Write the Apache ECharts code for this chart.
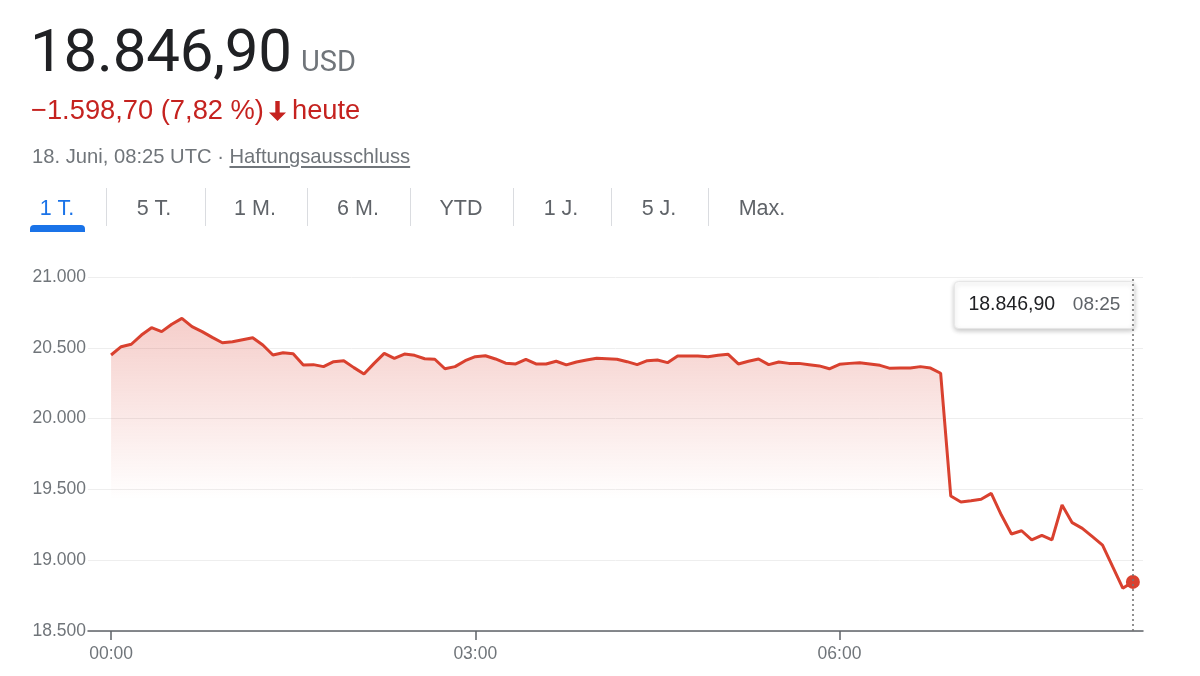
<!DOCTYPE html>
<html>
<head>
<meta charset="utf-8">
<script src="https://cdn.jsdelivr.net/npm/echarts@6/dist/echarts.min.js"></script>
<style>
  html, body { margin:0; padding:0; background:#fff; }
  body { width:1200px; height:676px; position:relative; overflow:hidden; font-family: "Liberation Sans", Arial, sans-serif; }
  #chart { position:absolute; left:0; top:0; width:1200px; height:676px; }
  .abs { position:absolute; white-space:nowrap; }
  #price { left:30px; top:15px; font-family: Roboto, sans-serif; font-size:60px; color:#202124; line-height:72px; letter-spacing:-0.2px; }
  #price .cur { font-size:29px; color:#70757a; margin-left:9px; letter-spacing:0; }
  #change { left:31px; top:94px; font-size:27.3px; color:#c5221f; line-height:32px; }
  #change svg { vertical-align:-3px; margin:0 4px 0 3px; }
  #date { left:32px; top:144px; font-size:20.2px; color:#70757a; line-height:24px; }
  #date u { text-decoration-color:#70757a; text-underline-offset:3px; }
  .tab { top:194px; font-size:21.5px; color:#5f6368; line-height:28px; transform:translateX(-50%); }
  .tab.active { color:#1a73e8; }
  .sep { top:188px; width:1px; height:38px; background:#dadce0; }
  #bar { left:30px; top:225px; width:55px; height:7px; background:#1a73e8; border-radius:4px 4px 0 0; }
</style>
</head>
<body>
<div id="chart"></div>
<div id="price" class="abs">18.846,90<span class="cur">USD</span></div>
<div id="change" class="abs">−1.598,70 (7,82 %)<svg width="21" height="22" viewBox="0 0 21 22"><path fill="#c5221f" d="M8.3 1h4.4v11.5h6.3L10.5 21 2 12.5h6.3z"/></svg>heute</div>
<div id="date" class="abs">18. Juni, 08:25 UTC · <u>Haftungsausschluss</u></div>
<div id="tabs"></div>
<div id="bar" class="abs"></div>
<script>
// ---- data ----
const tabLabels = ['1 T.', '5 T.', '1 M.', '6 M.', 'YTD', '1 J.', '5 J.', 'Max.'];
const stepMinutes = 5; // one reading every 5 minutes from 00:00 UTC
const prices = [
  20449, 20508, 20525, 20590, 20642, 20614, 20666, 20708, 20649, 20614,
  20574, 20536, 20543, 20557, 20571, 20520, 20449, 20465, 20458, 20379,
  20381, 20367, 20402, 20409, 20360, 20315, 20390, 20461, 20426, 20456,
  20447, 20423, 20419, 20352, 20367, 20409, 20437, 20444, 20421, 20391,
  20386, 20419, 20386, 20386, 20405, 20379, 20400, 20414, 20426, 20423,
  20419, 20402, 20381, 20409, 20414, 20395, 20442, 20442, 20442, 20437,
  20448, 20454, 20386, 20405, 20421, 20381, 20400, 20390, 20390, 20381,
  20372, 20352, 20383, 20390, 20395, 20386, 20376, 20355, 20357, 20357,
  20367, 20357, 20320, 19453, 19411, 19420, 19430, 19472, 19319, 19185,
  19208, 19143, 19176, 19143, 19390, 19265, 19225, 19166, 19107, 18954,
  18802, 18846.90
];
const xTickMinutes = [0, 180, 360];
const yTicks = [18500, 19000, 19500, 20000, 20500, 21000];

// ---- tabs (HTML text) ----
const tabCenters = [57, 154, 255, 358, 461, 561, 659, 762];
const sepX = [106, 205, 307, 410, 513, 611, 708];
const tabsEl = document.getElementById('tabs');
tabLabels.forEach((t, i) => {
  const d = document.createElement('div');
  d.className = 'abs tab' + (i === 0 ? ' active' : '');
  d.style.left = tabCenters[i] + 'px';
  d.textContent = t;
  tabsEl.appendChild(d);
});
sepX.forEach(x => {
  const s = document.createElement('div');
  s.className = 'abs sep';
  s.style.left = x + 'px';
  tabsEl.appendChild(s);
});

// ---- helpers ----
const fmtDE = (v, dec) => v.toLocaleString('de-DE', { minimumFractionDigits: dec, maximumFractionDigits: dec });
const fmtTime = m => String(Math.floor(m / 60)).padStart(2, '0') + ':' + String(m % 60).padStart(2, '0');

const seriesData = prices.map((p, i) => [i * stepMinutes, p]);
const last = seriesData[seriesData.length - 1];
const RED = '#d9412f';
const LABEL_FONT = 'Liberation Sans';

const chart = echarts.init(document.getElementById('chart'), null, { renderer: 'canvas' });
chart.setOption({
  animation: false,
  grid: { left: 88, right: 57, top: 277, bottom: 45, containLabel: false },
  xAxis: {
    type: 'value',
    min: -11.4,
    max: 510,
    axisLine: { show: true, lineStyle: { color: '#5f6368', width: 1.5 } },
    axisTick: { show: true, customValues: xTickMinutes, length: 9, lineStyle: { color: '#5f6368', width: 1.5 } },
    axisLabel: { customValues: xTickMinutes, formatter: v => fmtTime(v), color: '#70757a', fontSize: 17.5, fontFamily: LABEL_FONT, margin: 14 },
    splitLine: { show: false }
  },
  yAxis: {
    type: 'value',
    min: yTicks[0],
    max: yTicks[yTicks.length - 1],
    interval: 500,
    axisLine: { show: false },
    axisTick: { show: false },
    axisLabel: { formatter: v => fmtDE(v, 0), color: '#70757a', fontSize: 17.5, fontFamily: LABEL_FONT, margin: 2 },
    splitLine: { lineStyle: { color: '#eeeeee', width: 1 } }
  },
  series: [
    {
      type: 'line',
      data: seriesData,
      showSymbol: false,
      symbol: 'none',
      lineStyle: { color: RED, width: 3 },
      areaStyle: {
        origin: 'start',
        opacity: 1,
        color: new echarts.graphic.LinearGradient(0, 0, 0, 1, [
          { offset: 0, color: 'rgba(217,60,45,0.25)' },
          { offset: 0.58, color: 'rgba(217,60,45,0.0)' },
          { offset: 1, color: 'rgba(217,60,45,0.0)' }
        ])
      },
      markLine: {
        silent: true,
        symbol: 'none',
        label: { show: false },
        lineStyle: { color: '#757575', type: [2, 3], width: 1.6 },
        data: [{ xAxis: last[0] }]
      },
      z: 2
    },
    {
      type: 'scatter',
      data: [last],
      symbol: 'circle',
      symbolSize: 14,
      itemStyle: { color: RED, opacity: 1 },
      z: 3
    }
  ]
});

// tooltip-like box anchored at the last point
const px = chart.convertToPixel({ gridIndex: 0 }, last);
const boxW = 180, boxH = 47, boxTop = 281;
chart.setOption({
  graphic: [{
    type: 'group',
    left: px[0] - boxW + 1,
    top: boxTop,
    children: [
      { type: 'rect', shape: { x: 0, y: 0, width: boxW, height: boxH, r: 4 },
        style: { fill: '#ffffff', stroke: '#e6e6e6', lineWidth: 1, shadowBlur: 5, shadowOffsetY: 2, shadowColor: 'rgba(0,0,0,0.22)' } },
      { type: 'text', x: 14, y: boxH / 2,
        style: { text: fmtDE(last[1], 2), fill: '#202124', fontSize: 19.5, fontFamily: LABEL_FONT, verticalAlign: 'middle' } },
      { type: 'text', x: boxW - 14, y: boxH / 2,
        style: { text: fmtTime(last[0]), fill: '#5f6368', fontSize: 19, fontFamily: LABEL_FONT, verticalAlign: 'middle', align: 'right' } }
    ]
  }]
});
</script>
</body>
</html>
